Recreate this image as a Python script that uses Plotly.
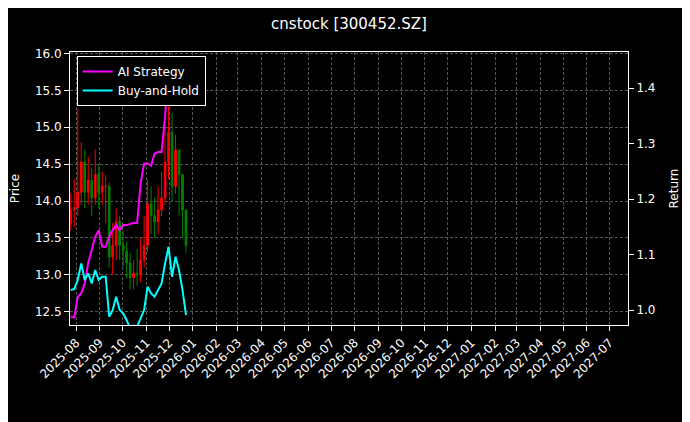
import pandas as pd
import plotly.graph_objects as go
from plotly.subplots import make_subplots

dates = pd.date_range('2025-07-25', '2025-12-23', periods=34)

close = [13.88, 13.91, 14.12, 14.53, 14.12, 14.28, 14.04, 14.36, 14.12, 14.20, 14.20, 13.24,
         13.40, 13.72, 13.40, 13.32, 13.16, 12.96, 13.02, 13.00, 13.20, 13.40, 13.96, 13.80,
         13.72, 13.88, 14.04, 14.53, 14.93, 14.20, 14.69, 14.36, 13.88, 13.40]
open_ = [13.70, 13.88, 13.91, 14.12, 14.53, 14.12, 14.28, 14.04, 14.36, 14.12, 14.20, 14.20,
         13.24, 13.40, 13.72, 13.40, 13.32, 13.16, 12.96, 13.02, 13.00, 13.20, 13.40, 13.96,
         13.80, 13.72, 13.88, 14.04, 14.53, 14.93, 14.20, 14.69, 14.36, 13.88]
high = [14.10, 14.30, 15.25, 14.80, 14.70, 14.60, 14.45, 14.70, 14.50, 14.40, 14.35, 14.25,
        13.70, 13.90, 13.80, 13.60, 13.45, 13.30, 13.20, 13.35, 13.50, 13.80, 14.30, 14.20,
        14.05, 14.20, 14.40, 15.00, 15.80, 15.20, 14.90, 14.60, 14.20, 13.60]
low = [13.60, 13.65, 13.80, 13.95, 13.90, 13.95, 13.80, 13.95, 13.90, 13.95, 13.70, 13.10,
       13.00, 13.20, 13.20, 13.10, 12.95, 12.80, 12.80, 12.85, 12.90, 13.10, 13.30, 13.55,
       13.50, 13.55, 13.80, 13.95, 14.30, 14.00, 14.10, 13.80, 13.50, 13.30]

ai_ret = [0.987, 0.987, 1.024, 1.030, 1.048, 1.085, 1.108, 1.132, 1.144, 1.114, 1.114, 1.132,
          1.144, 1.153, 1.144, 1.153, 1.153, 1.155, 1.157, 1.157, 1.228, 1.264, 1.264, 1.260,
          1.282, 1.285, 1.285, 1.348, 1.440, 1.420, 1.420, 1.420, 1.420, 1.420]
bh_ret = [1.036, 1.038, 1.054, 1.084, 1.054, 1.066, 1.048, 1.072, 1.054, 1.060, 1.060, 0.988,
          1.000, 1.024, 1.000, 0.994, 0.982, 0.967, 0.972, 0.970, 0.985, 1.000, 1.042, 1.030,
          1.024, 1.036, 1.048, 1.084, 1.114, 1.060, 1.096, 1.072, 1.036, 0.991]

fig = make_subplots(specs=[[{'secondary_y': True}]])
fig.add_trace(go.Candlestick(x=dates, open=open_, high=high, low=low, close=close,
                             increasing=dict(line=dict(color='red', width=1), fillcolor='red'),
                             decreasing=dict(line=dict(color='green', width=1), fillcolor='green'),
                             whiskerwidth=0, showlegend=False), secondary_y=False)
fig.add_trace(go.Scatter(x=dates, y=ai_ret, mode='lines', name='AI Strategy',
                         line=dict(color='magenta', width=2)), secondary_y=True)
fig.add_trace(go.Scatter(x=dates, y=bh_ret, mode='lines', name='Buy-and-Hold',
                         line=dict(color='cyan', width=2)), secondary_y=True)

grid = dict(showgrid=True, gridcolor='#555', griddash='3px,2px', gridwidth=0.5)
fig.update_layout(
    width=682, height=414,
    paper_bgcolor='black', plot_bgcolor='black',
    font=dict(family='DejaVu Sans', color='white', size=12),
    title=dict(text='cnstock [300452.SZ]', x=0.5, y=0.975, yanchor='top', xanchor='center',
               font=dict(size=15)),
    margin=dict(l=62, r=62, t=44, b=97),
    legend=dict(x=0.012, y=0.985, bgcolor='black', bordercolor='white', borderwidth=1,
                font=dict(size=12)),
    xaxis=dict(domain=[0, 1], rangeslider=dict(visible=False), range=['2025-07-24', '2027-07-25'],
               dtick='M1', tickformat='%Y-%m', tickangle=-45, showline=True, linecolor='white',
               mirror=True, ticks='outside', tickcolor='white', automargin=False, **grid),
)
fig.update_yaxes(title_text='Price', title_font_size=12, range=[12.32, 16.02], dtick=0.5,
                 tickformat='.1f', showline=True, linecolor='white', ticks='outside',
                 tickcolor='white', automargin=False, secondary_y=False, **grid)
fig.update_yaxes(title_text='Return', title_font_size=12, range=[0.973, 1.465],
                 tickvals=[1.0, 1.1, 1.2, 1.3, 1.4], tickformat='.1f', showgrid=False,
                 showline=True, linecolor='white', ticks='outside', tickcolor='white',
                 automargin=False, secondary_y=True)

fig.write_html('out.html')
